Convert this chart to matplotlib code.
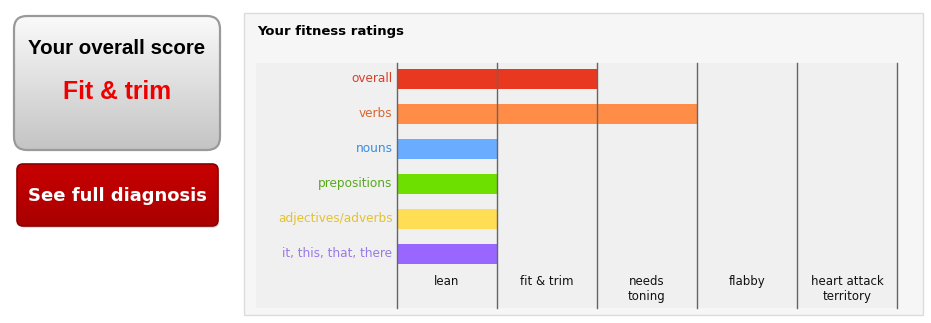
import matplotlib
matplotlib.use("Agg")
import matplotlib.pyplot as plt
import numpy as np
from matplotlib.patches import FancyBboxPatch, Rectangle

W, H = 931, 323

# ratings: 1 = lean, 2 = fit & trim, 3 = needs toning, ...
categories = ["overall", "verbs", "nouns", "prepositions",
              "adjectives/adverbs", "it, this, that, there"]
ratings = [2, 3, 1, 1, 1, 1]
bar_colors = ["#e8381f", "#ff8c47", "#6aacff", "#6ee000", "#ffdd55", "#9966ff"]
label_colors = ["#d9402a", "#d9672e", "#3a8ce0", "#5aa81e", "#e3c232", "#9a7ae6"]
levels = ["lean", "fit & trim", "needs\ntoning", "flabby", "heart attack\nterritory"]

overall_score = "Fit & trim"

fig = plt.figure(figsize=(W / 100, H / 100), dpi=100)
fig.patch.set_facecolor("white")


def px_axes(x0, y0, x1, y1, **kw):
    return fig.add_axes([x0 / W, 1 - y1 / H, (x1 - x0) / W, (y1 - y0) / H], **kw)


# background layer in pixel coordinates
bg = px_axes(0, 0, W, H)
bg.set_xlim(0, W)
bg.set_ylim(H, 0)
bg.axis("off")


def gradient_box(ax, x0, y0, x1, y1, top, bottom, edge, radius, lw):
    patch = FancyBboxPatch((x0, y0), x1 - x0, y1 - y0,
                           boxstyle=f"round,pad=0,rounding_size={radius}",
                           facecolor="none", edgecolor=edge, linewidth=lw, zorder=3)
    ax.add_patch(patch)
    t = np.linspace(0, 1, 256)[:, None]
    c0 = np.array(matplotlib.colors.to_rgb(top))
    c1 = np.array(matplotlib.colors.to_rgb(bottom))
    img = c0 + (c1 - c0) * t[..., None] * np.ones((1, 2, 1))
    im = ax.imshow(img, extent=(x0, x1, y1, y0), aspect="auto", zorder=2,
                   interpolation="bilinear")
    im.set_clip_path(patch)
    return patch


# score box
gradient_box(bg, 14, 16, 220, 150, "#fafafa", "#c4c4c4", "#9a9a9a", 13, 1.6)
bg.text(117, 48, "Your overall score", ha="center", va="center",
        fontsize=14.8, fontweight="bold", family="Liberation Sans", color="black", zorder=4)
bg.text(117, 92, overall_score, ha="center", va="center",
        fontsize=17.8, fontweight="bold", family="Liberation Sans", color="#ee0000", zorder=4)

# diagnosis button with a soft shadow
bg.add_patch(FancyBboxPatch((19, 167), 200, 61, boxstyle="round,pad=0,rounding_size=6",
                            facecolor="#dddddd", edgecolor="none", zorder=1))
gradient_box(bg, 17, 164, 218, 226, "#c80000", "#a80000", "#8a0000", 6, 1.2)
bg.text(117.5, 196, "See full diagnosis", ha="center", va="center",
        fontsize=13, fontweight="bold", family="DejaVu Sans", color="white", zorder=4)

# ratings panel
bg.add_patch(Rectangle((244, 13), 679, 302, facecolor="#f6f6f6",
                       edgecolor="#dcdcdc", linewidth=1, zorder=1))
bg.text(257, 31, "Your fitness ratings", ha="left", va="center",
        fontsize=9.5, fontweight="bold", color="black", zorder=4)

ax = px_axes(256, 63, 897, 308)
ax.set_facecolor("#f0f0f0")
for s in ax.spines.values():
    s.set_visible(False)
ax.set_xticks([])
ax.set_yticks([])

# 100 px per rating level, 35 px per row
ax.set_xlim(-1.41, 5)
ax.set_ylim(6.557, -0.443)

rows = np.arange(len(categories))
ax.barh(rows, ratings, height=20 / 35, left=0, color=bar_colors, zorder=2)

for x in range(len(levels) + 1):
    ax.axvline(x, color="#666666", linewidth=1, zorder=3, clip_on=False)

for i, (name, col) in enumerate(zip(categories, label_colors)):
    ax.text(-0.045, i, name, ha="right", va="center", fontsize=8.7, color=col)

for i, lvl in enumerate(levels):
    ax.text(i + 0.5, 5.62, lvl, ha="center", va="top", fontsize=8.5,
            color="#111111", linespacing=1.15)

fig.savefig("out.png", dpi=100, facecolor="white")
